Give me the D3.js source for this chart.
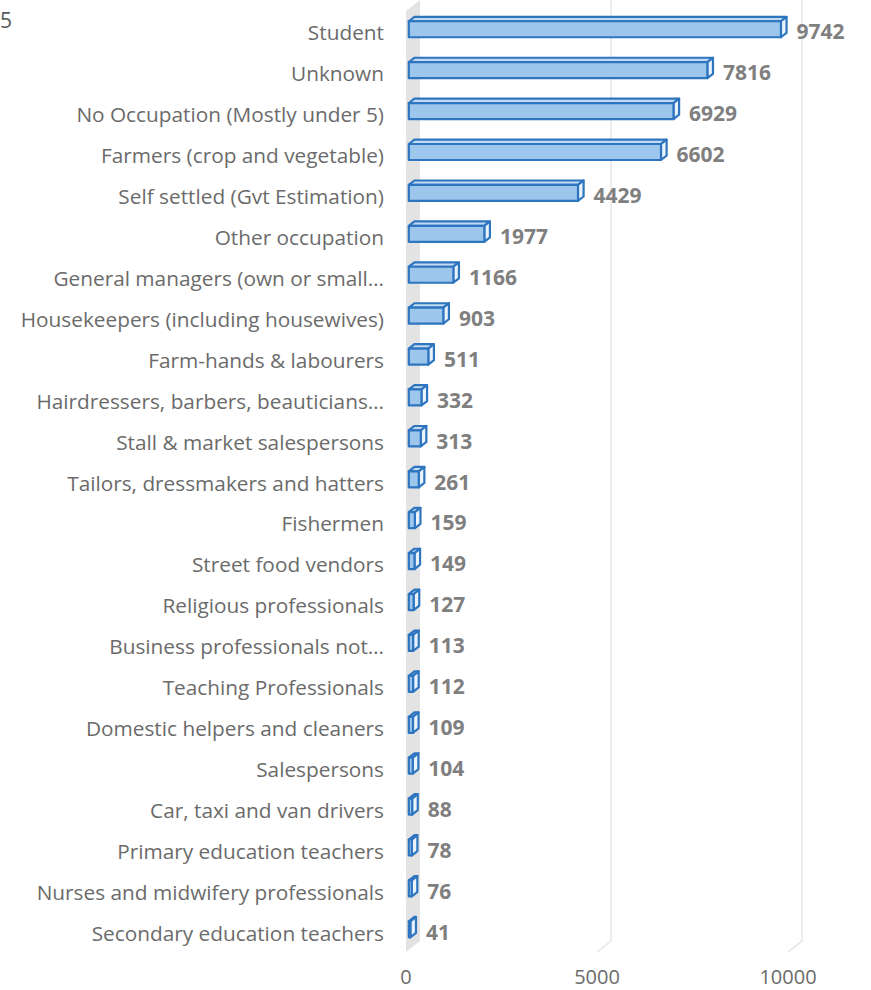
<!DOCTYPE html>
<html>
<head>
<meta charset="utf-8">
<script src="https://cdn.jsdelivr.net/npm/d3@7"></script>
<style>
  html, body { margin: 0; padding: 0; background: #fff; }
  svg { display: block; font-family: "Open Sans", sans-serif; }
</style>
</head>
<body>
<svg id="chart" width="871" height="990"></svg>
<script>
const categories = [
  "Student", "Unknown", "No Occupation (Mostly under 5)", "Farmers (crop and vegetable)",
  "Self settled (Gvt Estimation)", "Other occupation", "General managers (own or small…",
  "Housekeepers (including housewives)", "Farm-hands & labourers", "Hairdressers, barbers, beauticians…",
  "Stall & market salespersons", "Tailors, dressmakers and hatters", "Fishermen",
  "Street food vendors", "Religious professionals", "Business professionals not…",
  "Teaching Professionals", "Domestic helpers and cleaners", "Salespersons",
  "Car, taxi and van drivers", "Primary education teachers", "Nurses and midwifery professionals",
  "Secondary education teachers"
];
const values = [9742, 7816, 6929, 6602, 4429, 1977, 1166, 903, 511, 332, 313, 261, 159, 149, 127, 113, 112, 109, 104, 88, 78, 76, 41];
const xTicks = [0, 5000, 10000];
const titleText = "5";

const svg = d3.select("#chart");

// 3D projection: depth z in [0,1] shifts right and up
const DX = 14, DY = 11;
const plotTop = 11, plotBottom = 952;

const xScale = d3.scaleLinear().domain([0, 10000]).range([406, 788]);
const yScale = d3.scaleBand().domain(categories).range([plotTop, plotBottom]);

function P(v, y, z) {
  return [xScale(v) + DX * z, y - DY * z];
}
function poly(pts) {
  return "M" + pts.map(p => p.join(",")).join("L") + "Z";
}

// side wall
svg.append("path")
  .attr("d", poly([P(0, plotTop, 0), P(0, plotTop, 1), P(0, plotBottom, 1), P(0, plotBottom, 0)]))
  .attr("fill", "#e3e3e3");

// gridlines on back wall + floor
const grid = svg.append("g");
xTicks.filter(t => t > 0).forEach(t => {
  const a = P(t, plotTop, 1), b = P(t, plotBottom, 1), c = P(t, plotBottom, 0);
  grid.append("path")
    .attr("d", `M${a}L${b}L${c}`)
    .attr("fill", "none")
    .attr("stroke", "#e9e9e9")
    .attr("stroke-width", 1.6);
});

// tick labels
svg.append("g").selectAll("text")
  .data(xTicks)
  .join("text")
  .attr("x", d => P(d, plotBottom, 0)[0])
  .attr("y", 984)
  .attr("text-anchor", "middle")
  .attr("font-size", 20)
  .attr("fill", "#6b6b6b")
  .text(d => d);

// bars
const z0 = 0.2, z1 = 0.6, barH = 16;
const bars = svg.append("g");
categories.forEach((cat, i) => {
  const v = values[i];
  const c = yScale(cat) + yScale.bandwidth() / 2;
  const top = c - barH / 2, bot = c + barH / 2;
  const g = bars.append("g")
    .attr("stroke", "#2e75c0")
    .attr("stroke-width", 2.2)
    .attr("stroke-linejoin", "round");
  // top face
  g.append("path")
    .attr("d", poly([P(0, top, z0), P(v, top, z0), P(v, top, z1), P(0, top, z1)]))
    .attr("fill", "#c3dbf2");
  // right end face
  g.append("path")
    .attr("d", poly([P(v, top, z0), P(v, top, z1), P(v, bot, z1), P(v, bot, z0)]))
    .attr("fill", "#eaf2fb");
  // front face
  g.append("path")
    .attr("d", poly([P(0, top, z0), P(v, top, z0), P(v, bot, z0), P(0, bot, z0)]))
    .attr("fill", "#9dc6ec");

  // value label
  svg.append("text")
    .attr("x", P(v, top, z1)[0] + 10)
    .attr("y", c)
    .attr("dominant-baseline", "central")
    .attr("font-size", 21)
    .attr("font-weight", "bold")
    .attr("fill", "#7f7f7f")
    .text(v);
});

// category labels
svg.append("g").selectAll("text")
  .data(categories)
  .join("text")
  .attr("x", 384)
  .attr("y", d => yScale(d) + yScale.bandwidth() / 2 + 1)
  .attr("text-anchor", "end")
  .attr("dominant-baseline", "central")
  .attr("font-size", 20.8)
  .attr("fill", "#6b6b6b")
  .text(d => d);

// clipped title remnant
svg.append("text")
  .attr("x", 0)
  .attr("y", 28)
  .attr("font-size", 21)
  .attr("fill", "#595959")
  .text(titleText);
</script>
</body>
</html>
